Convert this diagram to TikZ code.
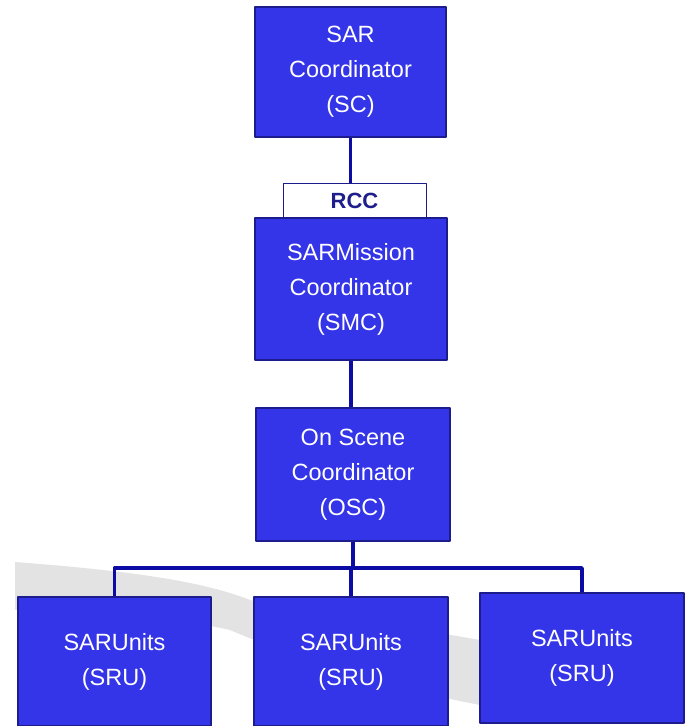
\documentclass[tikz,border=0pt]{standalone}
\usepackage{fontspec}
\setmainfont{Liberation Sans}
\usetikzlibrary{calc,positioning}
\definecolor{boxblue}{RGB}{52,52,232}
\definecolor{edgeblue}{RGB}{28,28,140}
\definecolor{linkblue}{RGB}{12,12,165}
\definecolor{rcctext}{RGB}{30,30,140}

\begin{document}
\begin{tikzpicture}[x=1pt,y=-1pt,line join=round,
  unit/.style={draw=edgeblue,line width=1.2pt,fill=boxblue,text=white,align=center,
    font=\fontsize{23.5}{35}\selectfont,inner sep=0pt},
  tag/.style={draw=edgeblue,line width=0.8pt,fill=white,text=rcctext,
    font=\fontsize{22}{22}\selectfont\bfseries,inner sep=0pt},
  link/.style={draw=linkblue,line width=3.5pt}]
\useasboundingbox (0,0) rectangle (688,726);
% grey swoosh behind the bottom row
\fill[gray!22] (15,562) .. controls (120,570) and (200,580) .. (250,600)
  -- (480,640) -- (480,705) .. controls (400,690) and (300,660) .. (230,630)
  .. controls (150,612) and (60,608) .. (15,610) -- cycle;
% boxes
\node[unit,minimum width=191pt,minimum height=130pt] (sc) at (350.5,72) {SAR\\Coordinator\\(SC)};
\node[tag,minimum width=143pt,minimum height=35pt] (rcc) at (354.5,200.5) {RCC};
\node[unit,minimum width=192pt,minimum height=142pt] (smc) at (351,289) {SARMission\\Coordinator\\(SMC)};
\node[unit,minimum width=194pt,minimum height=133pt] (osc) at (353,474.5) {On Scene\\Coordinator\\(OSC)};
\node[unit,minimum width=193pt,minimum height=129pt] (sru1) at (114.5,661.5) {SARUnits\\(SRU)};
\node[unit,minimum width=194pt,minimum height=129pt] (sru2) at (351,661.5) {SARUnits\\(SRU)};
\node[unit,minimum width=204pt,minimum height=130pt] (sru3) at (582,658) {SARUnits\\(SRU)};
% links
\coordinate (bus) at (353,568);
\draw[link] (sc.south) -- (sc.south |- rcc.north);
\draw[link] (smc.south) -- (smc.south |- osc.north);
\draw[link] (osc.south) -- (bus);
\foreach \u in {sru1,sru2,sru3}{\draw[link] (bus) -| (\u.north);}
\end{tikzpicture}
\end{document}
